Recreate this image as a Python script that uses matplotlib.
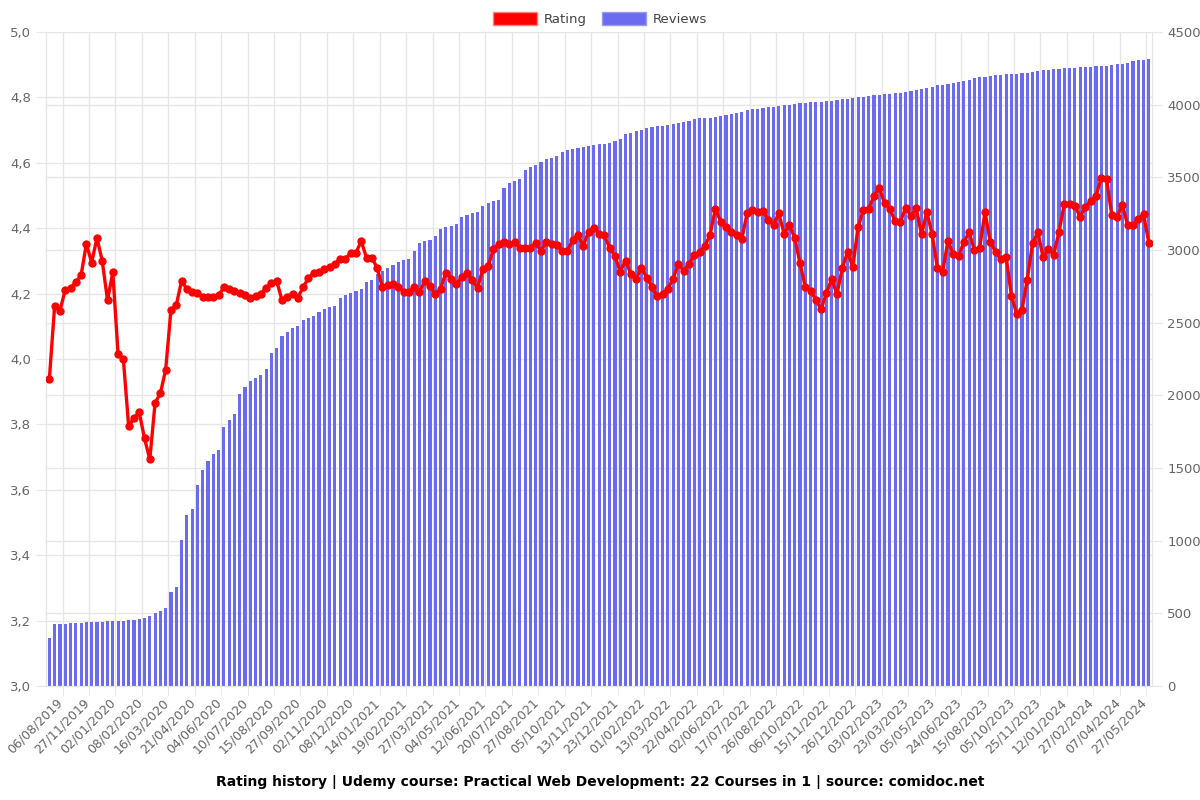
import numpy as np
import matplotlib
matplotlib.use("Agg")
import matplotlib.pyplot as plt
import matplotlib.transforms as mtrans
from matplotlib.patches import Patch

# Data (one entry per snapshot)
rating = [
    3.94, 4.163, 4.147, 4.212, 4.217, 4.235, 4.256, 4.352, 4.295, 4.370,
    4.300, 4.180, 4.265, 4.015, 3.999, 3.794, 3.820, 3.837, 3.757, 3.693,
    3.866, 3.895, 3.967, 4.149, 4.164, 4.238, 4.214, 4.206, 4.203, 4.191,
    4.191, 4.191, 4.195, 4.219, 4.215, 4.208, 4.202, 4.197, 4.187, 4.193,
    4.200, 4.216, 4.233, 4.239, 4.180, 4.191, 4.199, 4.187, 4.220, 4.247,
    4.264, 4.266, 4.275, 4.282, 4.290, 4.307, 4.306, 4.325, 4.325, 4.360,
    4.310, 4.310, 4.279, 4.219, 4.226, 4.228, 4.221, 4.205, 4.205, 4.219,
    4.205, 4.238, 4.223, 4.199, 4.214, 4.264, 4.246, 4.228, 4.250, 4.262,
    4.241, 4.217, 4.275, 4.283, 4.336, 4.351, 4.357, 4.351, 4.357, 4.339,
    4.339, 4.339, 4.354, 4.331, 4.357, 4.353, 4.348, 4.331, 4.331, 4.364,
    4.379, 4.346, 4.389, 4.402, 4.381, 4.378, 4.339, 4.314, 4.267, 4.301,
    4.260, 4.244, 4.279, 4.249, 4.221, 4.192, 4.198, 4.215, 4.246, 4.291,
    4.269, 4.291, 4.317, 4.327, 4.345, 4.380, 4.460, 4.420, 4.404, 4.387,
    4.378, 4.367, 4.446, 4.455, 4.449, 4.453, 4.426, 4.410, 4.446, 4.383,
    4.409, 4.371, 4.293, 4.221, 4.209, 4.181, 4.152, 4.201, 4.244, 4.199,
    4.277, 4.327, 4.282, 4.404, 4.456, 4.460, 4.499, 4.524, 4.476, 4.460,
    4.421, 4.420, 4.463, 4.437, 4.461, 4.381, 4.450, 4.381, 4.279, 4.267,
    4.362, 4.320, 4.316, 4.357, 4.388, 4.333, 4.340, 4.449, 4.359, 4.327,
    4.305, 4.313, 4.194, 4.138, 4.150, 4.243, 4.354, 4.388, 4.311, 4.336,
    4.319, 4.388, 4.474, 4.474, 4.469, 4.435, 4.465, 4.483, 4.499, 4.554,
    4.550, 4.439, 4.435, 4.471, 4.409, 4.409, 4.429, 4.442, 4.356,
]

reviews = [
    328, 427, 429, 430, 432, 433, 435, 437, 439, 440,
    442, 444, 446, 448, 450, 453, 456, 461, 466, 479,
    504, 518, 534, 645, 679, 1007, 1177, 1218, 1385, 1486,
    1545, 1593, 1627, 1779, 1829, 1872, 2010, 2057, 2098, 2122,
    2140, 2181, 2293, 2324, 2408, 2438, 2463, 2477, 2520, 2532,
    2543, 2571, 2596, 2610, 2617, 2672, 2688, 2704, 2718, 2730,
    2780, 2794, 2835, 2858, 2874, 2895, 2917, 2929, 2940, 2993,
    3048, 3062, 3071, 3094, 3142, 3156, 3167, 3179, 3225, 3241,
    3252, 3261, 3301, 3323, 3335, 3344, 3424, 3459, 3475, 3487,
    3551, 3569, 3585, 3608, 3624, 3631, 3647, 3677, 3688, 3695,
    3704, 3711, 3718, 3723, 3727, 3732, 3739, 3752, 3762, 3798,
    3808, 3817, 3826, 3837, 3844, 3851, 3856, 3858, 3865, 3874,
    3883, 3890, 3899, 3906, 3906, 3908, 3913, 3924, 3931, 3936,
    3943, 3952, 3961, 3968, 3972, 3977, 3982, 3986, 3991, 3996,
    4000, 4005, 4009, 4014, 4016, 4018, 4021, 4023, 4027, 4032,
    4037, 4041, 4046, 4051, 4055, 4060, 4064, 4069, 4071, 4073,
    4078, 4082, 4087, 4092, 4099, 4106, 4115, 4124, 4133, 4138,
    4145, 4151, 4158, 4165, 4172, 4181, 4188, 4193, 4197, 4202,
    4204, 4209, 4211, 4213, 4216, 4220, 4227, 4232, 4236, 4239,
    4243, 4248, 4250, 4252, 4255, 4257, 4259, 4262, 4264, 4266,
    4268, 4273, 4278, 4282, 4289, 4298, 4305, 4307, 4312,
]

# labels shown on every 5th snapshot
date_labels = [
    "06/08/2019", "27/11/2019", "02/01/2020", "08/02/2020", "16/03/2020",
    "21/04/2020", "04/06/2020", "10/07/2020", "15/08/2020", "27/09/2020",
    "02/11/2020", "08/12/2020", "14/01/2021", "19/02/2021", "27/03/2021",
    "04/05/2021", "12/06/2021", "20/07/2021", "27/08/2021", "05/10/2021",
    "13/11/2021", "23/12/2021", "01/02/2022", "13/03/2022", "22/04/2022",
    "02/06/2022", "17/07/2022", "26/08/2022", "06/10/2022", "15/11/2022",
    "26/12/2022", "03/02/2023", "23/03/2023", "05/05/2023", "24/06/2023",
    "15/08/2023", "05/10/2023", "25/11/2023", "12/01/2024", "27/02/2024",
    "07/04/2024", "27/05/2024",
]
label_step = 5

rating_ticks = [3.0, 3.2, 3.4, 3.6, 3.8, 4.0, 4.2, 4.4, 4.6, 4.8, 5.0]
review_ticks = [0, 500, 1000, 1500, 2000, 2500, 3000, 3500, 4000, 4500]

grid_c = "#e6e6e6"
text_c = "#666666"
bar_c = "#6b6bf0"
line_c = "#ff0000"

n = len(rating)
x = np.arange(n)

fig = plt.figure(figsize=(12, 8), dpi=100)
ax = fig.add_axes([0.0385, 0.1425, 0.9215, 0.8175])  # bars, right scale
ax2 = ax.twinx()                                      # line, left scale

ax.bar(x, reviews, width=0.6, color=bar_c, zorder=2)
ax.set_ylim(0, 4500)
ax.set_xlim(-0.6, n - 0.4)

# right scale ticks + grid
ax.yaxis.set_ticks_position("right")
ax.set_yticks(review_ticks)
ax.set_yticklabels([str(v) for v in review_ticks])
# left-scale gridlines drawn behind bars as minor ticks
ax.set_yticks([(v - 3.0) / 2.0 * 4500 for v in rating_ticks], minor=True)
ax.grid(True, which="both", axis="y", color=grid_c, lw=1, zorder=0)
ax.tick_params(axis="y", which="minor", length=0)

# x ticks: labels every 5th, grid lines halfway between
xt = list(range(0, n, label_step))[:len(date_labels)]
ax.set_xticks(xt)
ax.set_xticklabels(date_labels, rotation=45, ha="right", rotation_mode="anchor")
ax.set_xticks([t + label_step / 2 for t in xt], minor=True)
ax.grid(True, which="minor", axis="x", color=grid_c, lw=1, zorder=0)
ax.tick_params(axis="x", which="major", length=0, pad=7, labelsize=9, colors=text_c)
ax.tick_params(axis="x", which="minor", length=7, color=grid_c)
ax.tick_params(axis="y", which="major", length=7, color=grid_c, labelsize=9.5,
               colors=text_c, pad=4)
ax.set_axisbelow(True)

shift = mtrans.ScaledTranslation(5 / 72, 0, fig.dpi_scale_trans)
for lbl in ax.get_xticklabels():
    lbl.set_transform(lbl.get_transform() + shift)

ax2.plot(x, rating, color=line_c, lw=2.4, marker="o", ms=5, zorder=3)
ax2.set_ylim(3.0, 5.0)
ax2.yaxis.set_ticks_position("left")
ax2.set_yticks(rating_ticks)
ax2.set_yticklabels([f"{v:.1f}".replace(".", ",") for v in rating_ticks])
ax2.tick_params(axis="y", length=7, color=grid_c, labelsize=9.5, colors=text_c, pad=4)

for a in (ax, ax2):
    for s in a.spines.values():
        s.set_color(grid_c)
    a.spines["top"].set_visible(False)

handles = [Patch(facecolor=line_c, edgecolor="#ff8080", label="Rating"),
           Patch(facecolor=bar_c, edgecolor="#9a9af5", label="Reviews")]
fig.legend(handles=handles, loc="upper center", bbox_to_anchor=(0.5, 1.0),
           ncol=2, frameon=False, fontsize=9.5, handlelength=3.3,
           handleheight=1.1, columnspacing=1.2, handletextpad=0.5,
           labelcolor="#444444")

fig.text(0.5, 0.0225, "Rating history | Udemy course: Practical Web Development: "
         "22 Courses in 1 | source: comidoc.net",
         ha="center", va="center", fontsize=10, fontweight="bold")

fig.savefig("out.png", dpi=100)
